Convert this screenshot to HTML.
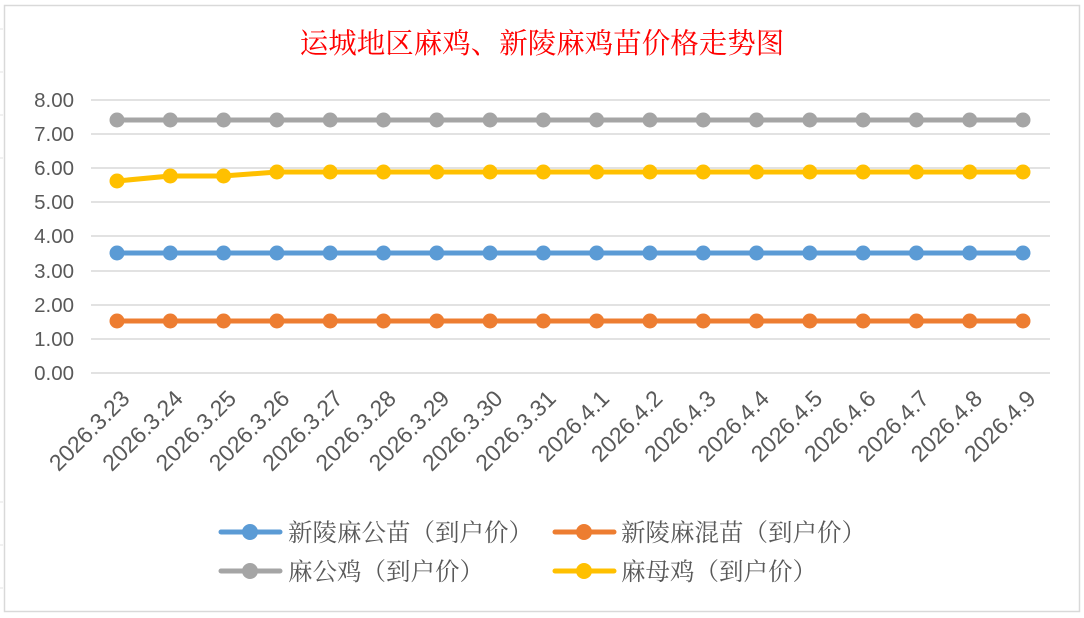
<!DOCTYPE html>
<html><head><meta charset="utf-8"><style>body{margin:0;background:#fff}svg{display:block}</style></head><body>
<svg width="1084" height="618" xmlns="http://www.w3.org/2000/svg">
<rect x="0" y="0" width="1084" height="618" fill="#fff"/>
<g stroke="#e3e3e3" stroke-width="1"><line x1="0" y1="29" x2="3" y2="29"/><line x1="0" y1="72" x2="3" y2="72"/><line x1="0" y1="115" x2="3" y2="115"/><line x1="0" y1="158" x2="3" y2="158"/><line x1="0" y1="502" x2="3" y2="502"/><line x1="0" y1="545" x2="3" y2="545"/><line x1="0" y1="588" x2="3" y2="588"/></g>
<rect x="4.5" y="5.5" width="1075" height="606" fill="#fff" stroke="#d9d9d9" stroke-width="1.5"/>
<text x="542" y="53" text-anchor="middle" font-family="'Liberation Serif','Noto Serif CJK SC',serif" font-size="28.5" fill="#ff0000">运城地区麻鸡、新陵麻鸡苗价格走势图</text>
<g stroke="#d9d9d9" stroke-width="1.5">
<line x1="91" y1="100" x2="1050" y2="100"/><line x1="91" y1="134" x2="1050" y2="134"/><line x1="91" y1="168" x2="1050" y2="168"/><line x1="91" y1="202" x2="1050" y2="202"/><line x1="91" y1="236" x2="1050" y2="236"/><line x1="91" y1="271" x2="1050" y2="271"/><line x1="91" y1="305" x2="1050" y2="305"/><line x1="91" y1="339" x2="1050" y2="339"/><line x1="91" y1="373" x2="1050" y2="373"/>
</g>
<g font-family="'Liberation Sans',sans-serif" font-size="20.5" fill="#595959" text-anchor="end">
<text x="74" y="107">8.00</text><text x="74" y="141">7.00</text><text x="74" y="175">6.00</text><text x="74" y="209">5.00</text><text x="74" y="243">4.00</text><text x="74" y="278">3.00</text><text x="74" y="312">2.00</text><text x="74" y="346">1.00</text><text x="74" y="380">0.00</text>
</g>
<g stroke-width="5" fill="none" stroke-linejoin="round">
<polyline stroke="#a5a5a5" points="117,120 1023,120"/>
<polyline stroke="#ffc000" points="117,181 170,176 223,176 277,172 1023,172"/>
<polyline stroke="#5b9bd5" points="117,253 1023,253"/>
<polyline stroke="#ed7d31" points="117,321 1023,321"/>
</g>
<g id="m"></g>
<g id="lab" font-family="'Liberation Sans',sans-serif" font-size="23" fill="#595959" text-anchor="end"></g>
<g font-family="'Liberation Serif','Noto Serif CJK SC',serif" font-size="24.5" fill="#595959">
<line x1="221" y1="532" x2="280" y2="532" stroke="#5b9bd5" stroke-width="5" stroke-linecap="round"/><circle cx="250" cy="532" r="8" fill="#5b9bd5"/>
<text x="288" y="541">新陵麻公苗（到户价）</text>
<line x1="555" y1="532" x2="614" y2="532" stroke="#ed7d31" stroke-width="5" stroke-linecap="round"/><circle cx="584" cy="532" r="8" fill="#ed7d31"/>
<text x="621" y="541">新陵麻混苗（到户价）</text>
<line x1="221" y1="571" x2="280" y2="571" stroke="#a5a5a5" stroke-width="5" stroke-linecap="round"/><circle cx="250" cy="571" r="8" fill="#a5a5a5"/>
<text x="288" y="580">麻公鸡（到户价）</text>
<line x1="555" y1="571" x2="614" y2="571" stroke="#ffc000" stroke-width="5" stroke-linecap="round"/><circle cx="584" cy="571" r="8" fill="#ffc000"/>
<text x="621" y="580">麻母鸡（到户价）</text>
</g>
<script>
var ns="http://www.w3.org/2000/svg",m=document.getElementById("m"),lab=document.getElementById("lab");
var labels=["2026.3.23","2026.3.24","2026.3.25","2026.3.26","2026.3.27","2026.3.28","2026.3.29","2026.3.30","2026.3.31","2026.4.1","2026.4.2","2026.4.3","2026.4.4","2026.4.5","2026.4.6","2026.4.7","2026.4.8","2026.4.9"];
var yel=[181,176,176];
for(var i=0;i<18;i++){var x=117+i*(1023-117)/17;
[[120,"#a5a5a5"],[i<3?yel[i]:172,"#ffc000"],[253,"#5b9bd5"],[321,"#ed7d31"]].forEach(function(p){var c=document.createElementNS(ns,"circle");c.setAttribute("cx",x);c.setAttribute("cy",p[0]);c.setAttribute("r",7.5);c.setAttribute("fill",p[1]);m.appendChild(c);});
var t=document.createElementNS(ns,"text");t.setAttribute("transform","translate("+(x+14)+",400) rotate(-45)");t.textContent=labels[i];lab.appendChild(t);}
</script>
</svg>
</body></html>
